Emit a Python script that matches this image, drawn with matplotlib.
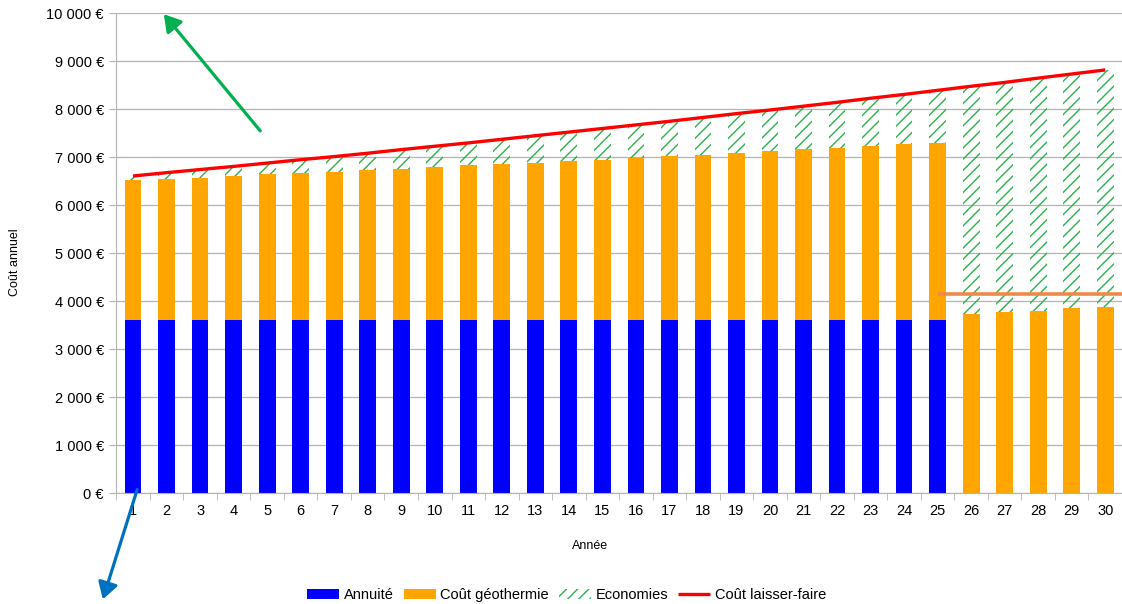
import matplotlib
matplotlib.use("Agg")
import matplotlib.pyplot as plt
from matplotlib.patches import FancyArrowPatch
import numpy as np

plt.rcParams['font.family'] = ['Liberation Sans', 'DejaVu Sans']
plt.rcParams['hatch.linewidth'] = 1.0

# data
annees = list(range(1, 31))
annuite = [3610] * 25 + [0] * 5
total_geo = [6528, 6542, 6576, 6618, 6653, 6667, 6694, 6729, 6762, 6798,
             6833, 6867, 6888, 6917, 6950, 6985, 7021, 7048, 7090, 7131,
             7167, 7200, 7235, 7271, 7298,
             3741, 3770, 3804, 3854, 3888]
laisser_faire = [6610, 6680, 6745, 6810, 6880, 6950, 7015, 7085, 7160, 7230,
                 7300, 7375, 7450, 7525, 7600, 7675, 7750, 7830, 7910, 7985,
                 8065, 8145, 8230, 8310, 8395, 8480, 8560, 8650, 8735, 8820]
seuil = 4152
y_ticks = [0, 1000, 2000, 3000, 4000, 5000, 6000, 7000, 8000, 9000, 10000]

annuite = np.array(annuite)
total_geo = np.array(total_geo)
geo = total_geo - annuite
economies = np.array(laisser_faire) - total_geo
x = np.array(annees)

fig = plt.figure(figsize=(11.22, 6.04), dpi=100)
ax = fig.add_axes([116.3 / 1122, 1 - 493.3 / 604, 1 - 116.3 / 1122, 480 / 604])

gris = '#b3b3b3'
w = 0.5
b1 = ax.bar(x, annuite, w, color='#0000ff', label='Annuité', zorder=2)
b2 = ax.bar(x, geo, w, bottom=annuite, color='#ffa500', label='Coût géothermie', zorder=2)
b3 = ax.bar(x, economies, w, bottom=total_geo, facecolor='none', edgecolor='#2bb24c',
            linewidth=0, hatch='///', label='Economies', zorder=2)
l1, = ax.plot(x, laisser_faire, color='#ff0000', lw=2.4, label='Coût laisser-faire',
              solid_capstyle='butt', zorder=3)
ax.plot([25.02, 31], [seuil, seuil], color='#ec8a4a', lw=2.6, solid_capstyle='butt', zorder=3)

ax.set_xlim(0.5, 0.5 + (1122 - 116.3) / 33.93)
ax.set_ylim(0, 10000)
ax.set_yticks(y_ticks)
ax.set_yticklabels([f"{v:,} €".replace(",", " ") for v in y_ticks])
ax.set_xticks(x)
ax.set_xticks(np.arange(0.5, 31, 1), minor=True)
ax.tick_params(axis='x', which='major', length=0, pad=8, labelsize=10.5, colors='#000000')
ax.tick_params(axis='x', which='minor', length=5, color=gris)
ax.tick_params(axis='y', length=5, color=gris, labelsize=10.5, pad=4)
ax.grid(axis='y', color=gris, lw=0.9, zorder=0)
ax.set_axisbelow(True)
for s in ['top', 'right']:
    ax.spines[s].set_visible(False)
for s in ['left', 'bottom']:
    ax.spines[s].set_color(gris)

fig.text(15 / 1122, 1 - 262 / 604, 'Coût annuel', rotation=90, ha='center', va='center', fontsize=9)
fig.text(590 / 1122, 1 - 546 / 604, 'Année', ha='center', va='center', fontsize=9)

fig.legend(handles=[b1, b2, b3, l1], loc='lower center', bbox_to_anchor=(0.505, -0.018),
           ncol=4, frameon=False, fontsize=10.5, handlelength=2.2, handletextpad=0.3,
           columnspacing=0.7)

# annotation arrows
fleche_verte = FancyArrowPatch((262, 604 - 133), (162, 604 - 12), transform=None,
                               arrowstyle='-|>,head_length=10,head_width=6',
                               color='#00b050', lw=2.3, mutation_scale=1)
fleche_bleue = FancyArrowPatch((138, 604 - 487), (102, 604 - 602), transform=None,
                               arrowstyle='-|>,head_length=10,head_width=6',
                               color='#0070c0', lw=2.3, mutation_scale=1)
fig.add_artist(fleche_verte)
fig.add_artist(fleche_bleue)

fig.savefig('out.png', dpi=100)
